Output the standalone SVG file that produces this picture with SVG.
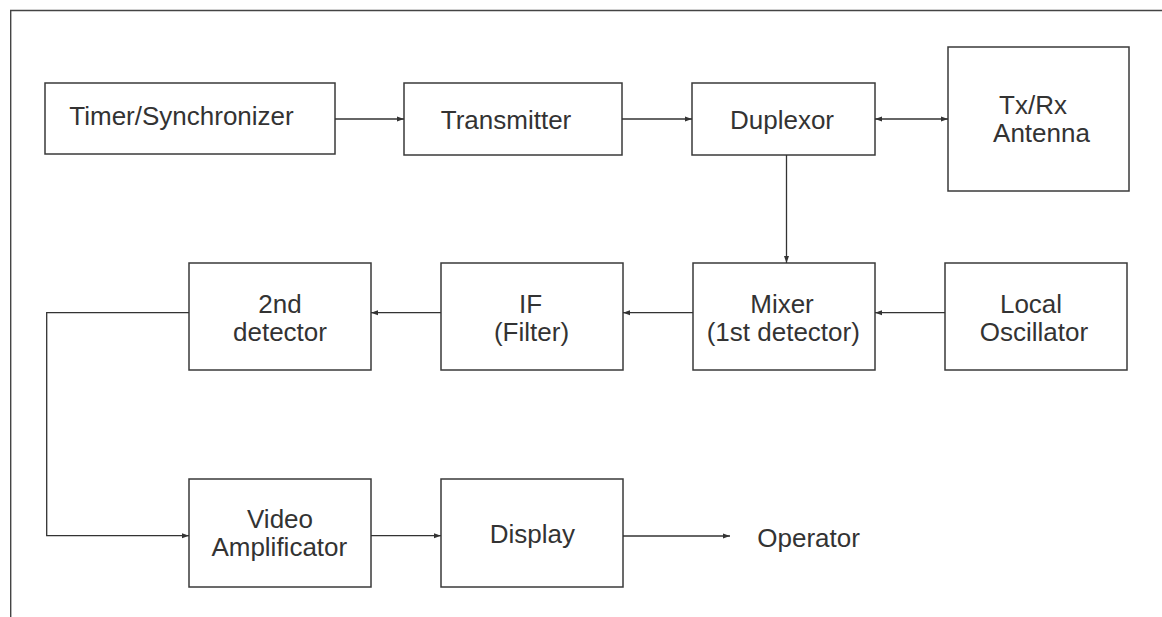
<svg xmlns="http://www.w3.org/2000/svg" width="1162" height="617" viewBox="0 0 1162 617">
<style>
.box{fill:#fff;stroke:#3a3a3a;stroke-width:1.5}
.lbl{font-family:"Liberation Sans",Arial,sans-serif;font-size:26px;fill:#333;text-anchor:middle}
.ln{fill:none;stroke:#333;stroke-width:1.3}
.frame{fill:none;stroke:#444;stroke-width:1.4}
</style>
<defs>
<marker id="ah" markerUnits="userSpaceOnUse" markerWidth="8" markerHeight="6" refX="7" refY="3" orient="auto-start-reverse">
<path d="M0,0.5 L7,3 L0,5.5 z" fill="#333"/>
</marker>
</defs>
<path class="frame" d="M1162,10.5 H10.7 V617"/>
<g id="timer"><rect class="box" x="45" y="83" width="290" height="71"/><text class="lbl" x="181.5" y="125">Timer/Synchronizer</text></g>
<g id="transmitter"><rect class="box" x="404" y="83" width="218" height="72"/><text class="lbl" x="506" y="129">Transmitter</text></g>
<g id="duplexor"><rect class="box" x="692" y="83" width="183" height="72"/><text class="lbl" x="782" y="129">Duplexor</text></g>
<g id="antenna"><rect class="box" x="948" y="47" width="181" height="144"/><text class="lbl" x="1033" y="114">Tx/Rx</text><text class="lbl" x="1041.5" y="142">Antenna</text></g>
<g id="second-detector"><rect class="box" x="189" y="263" width="182" height="107"/><text class="lbl" x="280" y="313">2nd</text><text class="lbl" x="280" y="341">detector</text></g>
<g id="if-filter"><rect class="box" x="441" y="263" width="182" height="107"/><text class="lbl" x="530.5" y="313">IF</text><text class="lbl" x="531.5" y="341">(Filter)</text></g>
<g id="mixer"><rect class="box" x="693" y="263" width="182" height="107"/><text class="lbl" x="782" y="313">Mixer</text><text class="lbl" x="783.3" y="341">(1st detector)</text></g>
<g id="local-osc"><rect class="box" x="945" y="263" width="182" height="107"/><text class="lbl" x="1031" y="313">Local</text><text class="lbl" x="1034" y="341">Oscillator</text></g>
<g id="video-amp"><rect class="box" x="189" y="479" width="182" height="108"/><text class="lbl" x="280" y="528">Video</text><text class="lbl" x="279.3" y="556">Amplificator</text></g>
<g id="display"><rect class="box" x="441" y="479" width="182" height="108"/><text class="lbl" x="532.3" y="543">Display</text></g>
<g id="operator"><text class="lbl" x="757.3" y="547" style="text-anchor:start">Operator</text></g>
<g id="connectors">
<line class="ln" x1="335" y1="119" x2="404" y2="119" marker-end="url(#ah)"/>
<line class="ln" x1="622" y1="119" x2="692" y2="119" marker-end="url(#ah)"/>
<line class="ln" x1="875" y1="119" x2="948" y2="119" marker-start="url(#ah)" marker-end="url(#ah)"/>
<line class="ln" x1="786.5" y1="155" x2="786.5" y2="263" marker-end="url(#ah)"/>
<line class="ln" x1="945" y1="312.7" x2="875" y2="312.7" marker-end="url(#ah)"/>
<line class="ln" x1="693" y1="312.7" x2="623" y2="312.7" marker-end="url(#ah)"/>
<line class="ln" x1="441" y1="312.7" x2="371" y2="312.7" marker-end="url(#ah)"/>
<path class="ln" d="M189,312.7 H46.7 V535.7 H189" marker-end="url(#ah)"/>
<line class="ln" x1="371" y1="535.7" x2="441" y2="535.7" marker-end="url(#ah)"/>
<line class="ln" x1="623" y1="536" x2="730" y2="536" marker-end="url(#ah)"/>
</g>
</svg>
